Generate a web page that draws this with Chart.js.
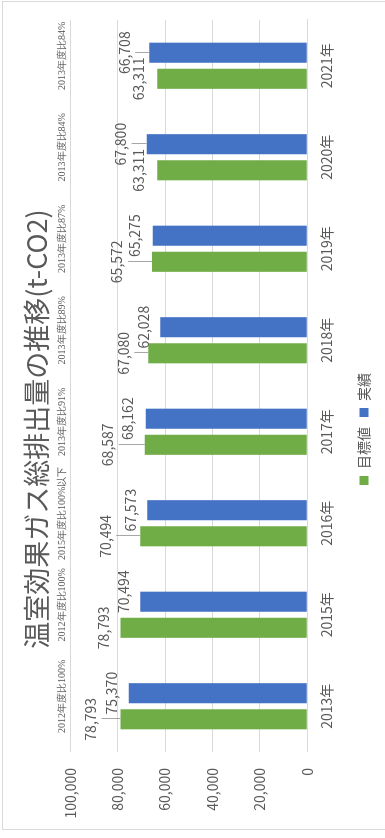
<!DOCTYPE html>
<html lang="ja">
<head>
<meta charset="utf-8">
<title>温室効果ガス総排出量の推移</title>
<script src="https://cdn.jsdelivr.net/npm/chart.js@4.4.1/dist/chart.umd.min.js"></script>
<style>
  html, body { margin: 0; padding: 0; background: #fff; overflow: hidden; }
  /* the chart is drawn lying down, then turned a quarter turn to the left */
  #wrap {
    position: absolute; left: 0; top: 0;
    width: 838px; height: 385px;
    transform-origin: 0 0;
    transform: translate(0, 838px) rotate(-90deg);
  }
</style>
</head>
<body>
<div id="wrap"><canvas id="chart" width="838" height="385"></canvas></div>
<script>
const years = ['2013年', '2015年', '2016年', '2017年', '2018年', '2019年', '2020年', '2021年'];
const target = [78793, 78793, 70494, 68587, 67080, 65572, 63311, 63311];
const actual = [75370, 70494, 67573, 68162, 62028, 65275, 67800, 66708];
const notes = ['2012年度比100%', '2012年度比100%', '2015年度比100%以下', '2013年度比91%',
  '2013年度比89%', '2013年度比87%', '2013年度比84%', '2013年度比84%'];
const yTicks = [0, 20000, 40000, 60000, 80000, 100000];

// how far each value label sits past the end of its bar (px), and sideways nudges
const targetGap = [31, 18, 36, 38, 26, 36, 20, 20];
const actualGap = [18, 18, 17, 19, 18, 19, 27, 26];
const actualShift = [0, 10, 0, 0, 0, 0, 0, 0];

const FONT = '"Noto Sans CJK JP", "Noto Sans", sans-serif';
const GREY = '#595959';

const fmt = v => v.toLocaleString('en-US');

// ─── VALUE LABELS + NOTES ─────────────────────────────
const valueLabels = {
  id: 'valueLabels',
  afterDatasetsDraw(chart) {
    const { ctx } = chart;
    ctx.save();
    ctx.font = `14px ${FONT}`;
    ctx.fillStyle = GREY;
    ctx.strokeStyle = '#a6a6a6';
    ctx.lineWidth = 1;
    ctx.textAlign = 'center';
    ctx.textBaseline = 'middle';

    const sets = [
      { meta: chart.getDatasetMeta(0), vals: target, gaps: targetGap, shifts: null },
      { meta: chart.getDatasetMeta(1), vals: actual, gaps: actualGap, shifts: actualShift },
    ];
    sets.forEach(s => {
      s.meta.data.forEach((bar, i) => {
        const ly = bar.y - s.gaps[i];
        const lx = bar.x + (s.shifts ? s.shifts[i] : 0);
        if (s.gaps[i] > 22) {
          const x = Math.round(bar.x) + 0.5;
          ctx.beginPath();
          ctx.moveTo(x, ly + 12);
          ctx.lineTo(x, bar.y);
          ctx.stroke();
        }
        ctx.fillText(fmt(s.vals[i]), lx, ly + 1);
      });
    });

    // small remark per year, up near the top of the plot
    const xs = chart.scales.x;
    ctx.font = `10px "Liberation Serif", "DejaVu Serif", serif`;
    notes.forEach((t, i) => {
      ctx.fillText(t, xs.getPixelForValue(i) + 10, 62);
    });
    ctx.restore();
  },
};

// light frame around the whole chart
const frame = {
  id: 'frame',
  beforeDraw(chart) {
    const { ctx } = chart;
    ctx.save();
    ctx.fillStyle = '#fff';
    ctx.fillRect(0, 0, chart.width, chart.height);
    ctx.strokeStyle = '#d9d9d9';
    ctx.lineWidth = 1;
    ctx.strokeRect(8.5, 2.5, 828, 400);
    ctx.restore();
  },
};

new Chart(document.getElementById('chart'), {
  type: 'bar',
  data: {
    labels: years,
    datasets: [
      { label: '目標値', data: target, backgroundColor: '#70ad47', categoryPercentage: 0.57, barPercentage: 0.77 },
      { label: '実績', data: actual, backgroundColor: '#4472c4', categoryPercentage: 0.57, barPercentage: 0.77 },
    ],
  },
  options: {
    responsive: false,
    animation: false,
    layout: { padding: { left: 0, right: 20, top: 0, bottom: 4 } },
    plugins: {
      title: {
        display: true,
        text: '温室効果ガス総排出量の推移(t-CO2)',
        color: GREY,
        font: { family: FONT, size: 27, weight: 'normal' },
        padding: { top: 21, bottom: 17 },
      },
      legend: {
        position: 'bottom',
        labels: { boxWidth: 9, boxHeight: 9, color: GREY, font: { family: FONT, size: 14 }, padding: 10 },
      },
      tooltip: { enabled: false },
    },
    scales: {
      x: {
        afterFit: s => { s.height += 9; },
        grid: { display: false },
        border: { color: '#d9d9d9' },
        ticks: { color: GREY, font: { family: FONT, size: 14 }, padding: 3, maxRotation: 0 },
      },
      y: {
        min: 0,
        max: 100000,
        afterBuildTicks: s => { s.ticks = yTicks.map(v => ({ value: v })); },
        afterFit: s => { s.width = 86; },
        grid: { color: '#d9d9d9', drawTicks: false },
        border: { display: false },
        ticks: { color: GREY, font: { family: FONT, size: 14 }, padding: 16, callback: v => fmt(v) },
      },
    },
  },
  plugins: [valueLabels, frame],
});
</script>
</body>
</html>
